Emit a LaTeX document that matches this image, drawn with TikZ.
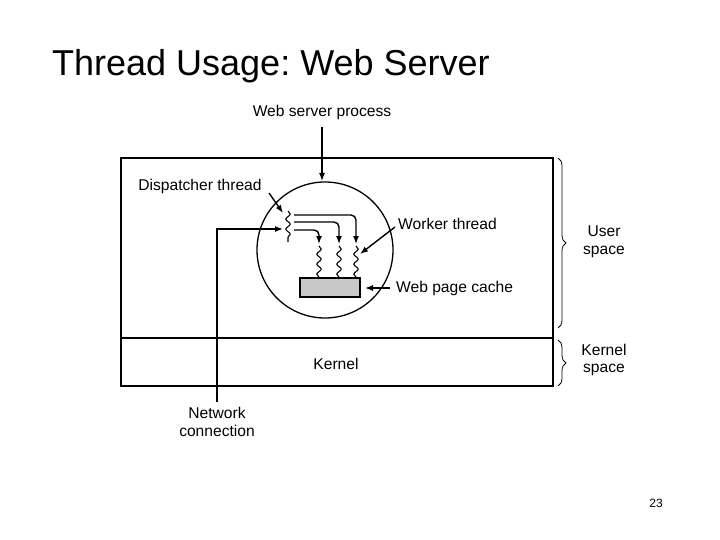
\documentclass[tikz,border=0pt]{standalone}
\usepackage{fontspec}
\setmainfont{Liberation Sans}
\frenchspacing
\usetikzlibrary{arrows.meta,decorations.pathreplacing,decorations.pathmorphing}
\begin{document}
\begin{tikzpicture}[x=1pt,y=-1pt,
  lbl/.style={font=\fontsize{15.6}{17.5}\selectfont, inner sep=0pt, align=center},
  arr/.style={line width=1.4pt, -{Latex[length=8pt,width=6pt]}},
  boxline/.style={line width=1.6pt},
  wave/.style={line width=1.1pt, decorate, decoration={snake, segment length=10pt, amplitude=2.2pt}},
  brc/.style={line width=0.8pt, decorate, decoration={brace, amplitude=8pt}}]
\useasboundingbox (0,0) rectangle (720,540);
% title
\node[anchor=west, font=\fontsize{36}{40}\selectfont, inner sep=0pt] (title) at (52,66) {Thread Usage: Web Server};
% outer box
\draw[boxline] (121,158) rectangle (553,386);
\draw[boxline] (121,338) -- (553,338);
% circle
\draw[line width=1.3pt] (325,250) circle (68);
% cache
\node[draw, line width=1.3pt, fill={rgb,255:red,200;green,200;blue,200}, minimum width=60pt, minimum height=19pt, inner sep=0pt] (cache) at (330,287.5) {};
% labels
\node[lbl] (wsp) at (322,112) {Web server process};
\node[lbl] (disp) at (200,186) {Dispatcher thread};
\node[lbl, anchor=west] (work) at (398,224) {Worker thread};
\node[lbl, anchor=west] (wpc) at (396,288) {Web page cache};
\node[lbl] (kern) at (336,364) {Kernel};
\node[lbl] (net) at (217,422) {Network\\connection};
\node[lbl] (us) at (604,242) {User\\space};
\node[lbl] (ks) at (604,360) {Kernel\\space};
\node[font=\fontsize{12}{14}\selectfont, inner sep=0pt] (pg) at (656,503) {23};
% coordinates
\coordinate (ctop) at (322,181);
\coordinate (dtip) at (283,213);
\coordinate (ntip) at (283,229);
\coordinate (nbot) at (217,402);
\coordinate (d1) at (288,211);
\coordinate (d2) at (288,242);
\coordinate (w1) at (319,244);
\coordinate (w2) at (339,244);
\coordinate (w3) at (356,244);
\coordinate (wtip) at (360,254);
\coordinate (ctip) at (365,288);
% arrows
\draw[arr] (wsp.south) ++(0,8) -- (ctop);
\draw[arr] (269,193) -- (dtip);
\draw[arr] (nbot) -- (217,229) -- (ntip);
\draw[arr] (work.west) ++(-3,3) -- (wtip);
\draw[arr] (wpc.west) ++(-6,0) -- (ctip);
% dispatcher squiggle
\draw[wave] (d1) -- (d2);
% worker paths
\draw[arr, rounded corners=5pt] (294,215) -- (356,215) -- (w3);
\draw[arr, rounded corners=5pt] (294,222) -- (339,222) -- (w2);
\draw[arr, rounded corners=5pt] (294,230) -- (319,230) -- (w1);
% worker squiggles
\draw[wave] (319,246) -- (cache.north -| 319,0);
\draw[wave] (339,246) -- (cache.north -| 339,0);
\draw[wave] (356,246) -- (cache.north -| 356,0);
% braces
\draw[brc] (558,158) -- (558,328);
\draw[brc] (558,340) -- (558,386);
\end{tikzpicture}
\end{document}
